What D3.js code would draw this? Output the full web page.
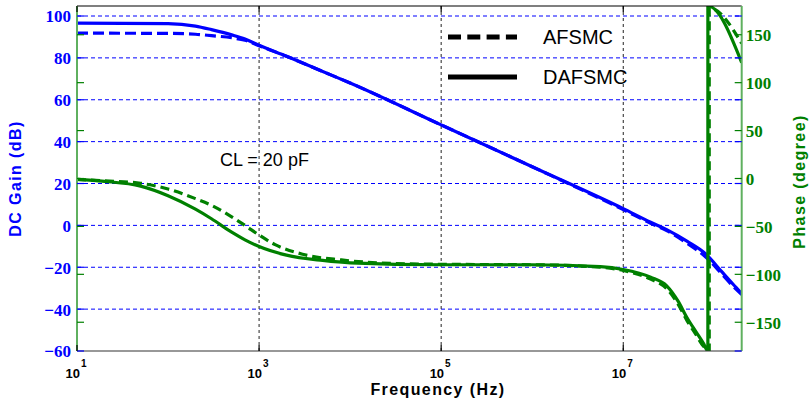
<!DOCTYPE html>
<html>
<head>
<meta charset="utf-8">
<script src="https://cdn.jsdelivr.net/npm/d3@7"></script>
<style>
  body { margin: 0; background: #fff; }
  .title { font-family: "Liberation Sans", Arial, sans-serif; font-weight: bold; font-size: 16px; letter-spacing: 1.4px; }
  .ytick { font-family: "Liberation Serif", "Times New Roman", serif; font-weight: bold; font-size: 17px; }
  .xtick { font-family: "Liberation Sans", Arial, sans-serif; font-weight: bold; font-size: 13px; }
  .note { font-family: "Liberation Sans", Arial, sans-serif; font-size: 18px; }
  .legend { font-family: "Liberation Sans", Arial, sans-serif; font-size: 20px; }
</style>
</head>
<body>
<script>
// Frequency points (Hz) and curves
var gainFreq = [10, 100, 200, 300, 500, 700, 1000, 2000, 5000, 1e4, 1e5, 1e6, 1e7, 2e7, 3e7, 5e7, 8e7, 1.2e8, 1.6e8, 2e8];
var gainDAFSMC = [96.6, 96.4, 95.2, 93.5, 91, 89, 86, 80.8, 73.5, 68, 48, 28, 8, 1.5, -2, -7.5, -13.5, -22, -28, -32.5];
var gainAFSMC = [91.8, 91.7, 91.3, 90.6, 89.6, 88.4, 85.8, 80.8, 73.5, 68, 48, 28, 7.5, 1, -2.5, -8.5, -15, -23, -29, -33];

var phaseFreqD = [10, 20, 50, 100, 200, 300, 500, 700, 1000, 2000, 5000, 1e4, 1e5, 1e6, 5.6e6, 1e7, 2e7, 3e7, 4e7, 5e7, 6.3e7, 7.6e7, 8.5e7, 8.5e7, 2e8];
var phaseDAFSMC = [-1, -3, -8, -18, -32, -42, -56, -64, -71, -80, -85.5, -88, -90, -90, -92, -95, -103, -112, -128, -145, -160, -172, -180, 180, 121];
var phaseFreqA = [10, 20, 50, 100, 200, 300, 500, 700, 1000, 1500, 3000, 8000, 2e4, 1e5, 1e6, 5.6e6, 1e7, 2e7, 3e7, 4e7, 5e7, 6.3e7, 7.6e7, 8.8e7, 8.8e7, 2e8];
var phaseAFSMC = [-1, -2.5, -5, -11, -21, -28, -40, -49, -59, -69, -79, -85, -88, -89.5, -90, -92.5, -96, -105, -115, -131, -148, -163, -175, -180, 178, 141];

var gainTicks = [-60, -40, -20, 0, 20, 40, 60, 80, 100];
var phaseTicks = [-150, -100, -50, 0, 50, 100, 150];
var freqTicks = [1e1, 1e3, 1e5, 1e7];
var legendNames = ["AFSMC", "DAFSMC"];

var svgWidth = 810, svgHeight = 403;
var margin = { top: 6, left: 77, right: 68.3, bottom: 52 };
var chartWidth = svgWidth - margin.left - margin.right;
var chartHeight = svgHeight - margin.top - margin.bottom;

var blue = "#0000ff", green = "#008000", axisGreen = "#5fb05f";

var svg = d3.select("body").append("svg")
    .attr("width", svgWidth)
    .attr("height", svgHeight);

var chartGroup = svg.append("g")
    .attr("transform", `translate(${margin.left}, ${margin.top})`);

// Scales
var xScale = d3.scaleLog().domain([10, 2e8]).range([0, chartWidth]);
var yGain = d3.scaleLinear().domain([-60, 104.78]).range([chartHeight, 0]);
var yPhase = d3.scaleLinear().domain([-180, 180]).range([chartHeight, 0]);

chartGroup.append("clipPath").attr("id", "plotClip")
    .append("rect").attr("width", chartWidth).attr("height", chartHeight);

// Grid lines
chartGroup.selectAll(".hgrid")
    .data(gainTicks.filter(d => d > -60))
    .enter().append("line")
    .attr("x1", 0).attr("x2", chartWidth)
    .attr("y1", d => yGain(d)).attr("y2", d => yGain(d))
    .attr("stroke", blue).attr("stroke-width", 1)
    .attr("stroke-dasharray", "4,3");

chartGroup.selectAll(".vgrid")
    .data(freqTicks.slice(1))
    .enter().append("line")
    .attr("x1", d => xScale(d)).attr("x2", d => xScale(d))
    .attr("y1", 0).attr("y2", chartHeight)
    .attr("stroke", "#222").attr("stroke-width", 1)
    .attr("stroke-dasharray", "3,3");

// Curves
var curves = chartGroup.append("g").attr("clip-path", "url(#plotClip)");

function drawCurve(freqs, values, yScale, color, dash) {
    var line = d3.line()
        .x((d, i) => xScale(freqs[i]))
        .y(d => yScale(d))
        .curve(d3.curveMonotoneX);
    curves.append("path")
        .datum(values)
        .attr("d", line)
        .attr("fill", "none")
        .attr("stroke", color)
        .attr("stroke-width", 3.2)
        .attr("stroke-dasharray", dash);
}

drawCurve(gainFreq, gainAFSMC, yGain, blue, "11,5");
drawCurve(gainFreq, gainDAFSMC, yGain, blue, null);
drawCurve(phaseFreqA, phaseAFSMC, yPhase, green, "9,5");
drawCurve(phaseFreqD, phaseDAFSMC, yPhase, green, null);

// Axis box
chartGroup.append("line").attr("x1", 0).attr("x2", chartWidth).attr("y1", 0).attr("y2", 0)
    .attr("stroke", "#000").attr("stroke-width", 1.2);
chartGroup.append("line").attr("x1", 0).attr("x2", chartWidth).attr("y1", chartHeight).attr("y2", chartHeight)
    .attr("stroke", "#333").attr("stroke-width", 1.2);
chartGroup.append("line").attr("x1", 0).attr("x2", 0).attr("y1", 0).attr("y2", chartHeight)
    .attr("stroke", axisGreen).attr("stroke-width", 2);
chartGroup.append("line").attr("x1", chartWidth).attr("x2", chartWidth).attr("y1", 0).attr("y2", chartHeight)
    .attr("stroke", axisGreen).attr("stroke-width", 2);

// Left gain axis
var leftAxis = d3.axisLeft(yGain).tickValues(gainTicks).tickSize(0).tickPadding(6);
var gLeft = chartGroup.append("g").call(leftAxis);
gLeft.select(".domain").remove();
gLeft.selectAll("text").attr("class", "ytick").attr("fill", blue).attr("dy", "0.35em");

// Right phase axis
var rightAxis = d3.axisRight(yPhase).tickValues(phaseTicks).tickSize(0).tickPadding(4);
var gRight = chartGroup.append("g")
    .attr("transform", `translate(${chartWidth}, 0)`)
    .call(rightAxis);
gRight.select(".domain").remove();
gRight.selectAll("text").attr("class", "ytick").attr("fill", green).attr("dy", "0.35em");

// Inside tick marks
[0, chartWidth].forEach(function (x0) {
    var dir = x0 === 0 ? 1 : -1;
    chartGroup.selectAll(null).data(gainTicks).enter().append("line")
        .attr("x1", x0).attr("x2", x0 + dir * 7)
        .attr("y1", d => yGain(d)).attr("y2", d => yGain(d))
        .attr("stroke", blue).attr("stroke-width", 1.2);
    chartGroup.selectAll(null).data(phaseTicks).enter().append("line")
        .attr("x1", x0).attr("x2", x0 + dir * 7)
        .attr("y1", d => yPhase(d)).attr("y2", d => yPhase(d))
        .attr("stroke", green).attr("stroke-width", 1.2);
});
chartGroup.selectAll(null).data(freqTicks).enter().append("line")
    .attr("x1", d => xScale(d)).attr("x2", d => xScale(d))
    .attr("y1", chartHeight).attr("y2", chartHeight - 6)
    .attr("stroke", "#000").attr("stroke-width", 1.2);
chartGroup.selectAll(null).data(freqTicks).enter().append("line")
    .attr("x1", d => xScale(d)).attr("x2", d => xScale(d))
    .attr("y1", 0).attr("y2", 6)
    .attr("stroke", "#000").attr("stroke-width", 1.2);

// X tick labels 10^n
var xLabels = chartGroup.selectAll(".xl").data(freqTicks).enter().append("text")
    .attr("class", "xtick")
    .attr("x", d => xScale(d) - 1)
    .attr("y", chartHeight + 27)
    .attr("text-anchor", "middle")
    .attr("fill", "#000");
xLabels.append("tspan").text("10");
xLabels.append("tspan").attr("dy", -11).attr("dx", 1).attr("font-size", 10)
    .text(d => Math.round(Math.log10(d)));

// Axis titles
chartGroup.append("text")
    .attr("class", "title")
    .attr("x", 361)
    .attr("y", chartHeight + 44)
    .attr("text-anchor", "middle")
    .text("Frequency (Hz)");

svg.append("text")
    .attr("class", "title")
    .attr("transform", `translate(21, ${margin.top + chartHeight / 2}) rotate(-90)`)
    .attr("text-anchor", "middle")
    .attr("fill", blue)
    .text("DC Gain (dB)");

svg.append("text")
    .attr("class", "title")
    .attr("transform", `translate(805, ${margin.top + chartHeight / 2 + 3}) rotate(-90)`)
    .attr("text-anchor", "middle")
    .attr("fill", green)
    .text("Phase (degree)");

// Annotation
svg.append("text")
    .attr("class", "note")
    .attr("x", 220)
    .attr("y", 166)
    .text("CL = 20 pF");

// Legend
var legend = svg.append("g").attr("transform", "translate(448, 0)");
legend.selectAll(null).data(legendNames).enter().append("line")
    .attr("x1", 0).attr("x2", 69)
    .attr("y1", (d, i) => 37 + i * 40).attr("y2", (d, i) => 37 + i * 40)
    .attr("stroke", "#000").attr("stroke-width", 5)
    .attr("stroke-dasharray", (d, i) => i === 0 ? "13,6.3" : null);
legend.selectAll(null).data(legendNames).enter().append("text")
    .attr("class", "legend")
    .attr("x", 95)
    .attr("y", (d, i) => 44 + i * 39.5)
    .text(d => d);
</script>
</body>
</html>
